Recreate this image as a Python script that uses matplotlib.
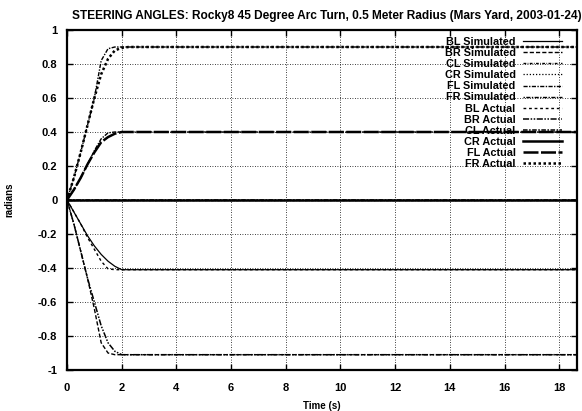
import matplotlib
matplotlib.use("Agg")
import matplotlib.pyplot as plt
import numpy as np

plt.rcParams['font.family'] = ['Liberation Sans', 'DejaVu Sans']

# time samples (s)
t_fast = [0, 0.25, 0.5, 0.75, 1.0, 1.25, 1.5, 1.75, 2.0, 19]
t_slow = [0, 0.25, 0.5, 0.75, 1.0, 1.25, 1.5, 1.75, 2.0, 2.25, 19]

# simulated steering angles (rad)
bl_sim = [0, -0.07, -0.14, -0.21, -0.27, -0.32, -0.36, -0.39, -0.41, -0.41, -0.41]
br_sim = [0, -0.14, -0.30, -0.46, -0.64, -0.84, -0.90, -0.91, -0.91, -0.91]
cl_sim = [0, 0, 0, 0, 0, 0, 0, 0, 0, 0]
cr_sim = [0, 0, 0, 0, 0, 0, 0, 0, 0, 0]
fl_sim = [0, 0.06, 0.13, 0.21, 0.29, 0.36, 0.395, 0.40, 0.40, 0.40]
fr_sim = [0, 0.13, 0.28, 0.44, 0.60, 0.82, 0.89, 0.90, 0.90, 0.90]

# actual steering angles (rad)
bl_act = [0, -0.07, -0.14, -0.22, -0.29, -0.36, -0.405, -0.41, -0.41, -0.41]
br_act = [0, -0.14, -0.30, -0.46, -0.60, -0.74, -0.84, -0.89, -0.91, -0.91, -0.91]
cl_act = [0, 0, 0, 0, 0, 0, 0, 0, 0, 0]
cr_act = [0, 0, 0, 0, 0, 0, 0, 0, 0, 0]
fl_act = [0, 0.06, 0.13, 0.21, 0.28, 0.34, 0.37, 0.39, 0.40, 0.40, 0.40]
fr_act = [0, 0.13, 0.28, 0.44, 0.60, 0.74, 0.83, 0.88, 0.895, 0.90, 0.90]

xticks = [0, 2, 4, 6, 8, 10, 12, 14, 16, 18]
yticks = [1, 0.8, 0.6, 0.4, 0.2, 0, -0.2, -0.4, -0.6, -0.8, -1]
ytick_labels = ['1', '0.8', '0.6', '0.4', '0.2', '0', '-0.2', '-0.4', '-0.6', '-0.8', '-1']

fig = plt.figure(figsize=(5.82, 4.11), dpi=100)
ax = fig.add_axes([67/582, 1-370/411, 510/582, 340/411])

series = [
    ("BL Simulated", t_slow, bl_sim, '-', 0.9),
    ("BR Simulated", t_fast, br_sim, (0, (3, 1.5)), 1.0),
    ("CL Simulated", t_fast, cl_sim, (0, (2, 1, 0.5, 1)), 1.0),
    ("CR Simulated", t_fast, cr_sim, (0, (1, 1.5)), 0.9),
    ("FL Simulated", t_fast, fl_sim, (0, (3, 1, 1, 1)), 1.0),
    ("FR Simulated", t_fast, fr_sim, (0, (1, 1, 3, 1)), 1.0),
    ("BL Actual", t_fast, bl_act, (0, (2, 2)), 1.0),
    ("BR Actual", t_slow, br_act, (0, (4, 1, 1, 1, 1, 1)), 1.1),
    ("CL Actual", t_fast, cl_act, (0, (3, 1, 1, 1)), 1.1),
    ("CR Actual", t_fast, cr_act, '-', 1.8),
    ("FL Actual", t_slow, fl_act, (0, (6, 1)), 1.8),
    ("FR Actual", t_slow, fr_act, (0, (1, 1)), 1.8),
]
for label, tt, yy, ls, lw in series:
    ax.plot(tt, yy, color='black', linestyle=ls, linewidth=lw, label=label)

ax.set_xlim(0, 18.65)
ax.set_ylim(-1, 1)
ax.set_xticks(xticks)
ax.set_xticklabels([str(v) for v in xticks], fontsize=8, fontweight='bold')
ax.set_yticks(yticks)
ax.set_yticklabels(ytick_labels, fontsize=8, fontweight='bold')
ax.tick_params(direction='in', top=True, right=True, length=4, width=1)
ax.tick_params(axis='x', pad=9)
ax.tick_params(axis='y', pad=7)
ax.grid(True, color='black', linestyle=(0, (1, 2)), linewidth=0.6)
for s in ax.spines.values():
    s.set_linewidth(1.6)

ax.set_xlabel("Time (s)", fontsize=7, fontweight='bold', labelpad=6)
ax.set_ylabel("radians", fontsize=7, fontweight='bold', labelpad=17)
ax.set_title("STEERING ANGLES: Rocky8 45 Degree Arc Turn, 0.5 Meter Radius (Mars Yard, 2003-01-24)",
             fontsize=8.6, fontweight='bold', pad=8, x=0.51)

leg = ax.legend(loc='upper right', frameon=False, markerfirst=False,
                prop={'size': 7.8, 'weight': 'bold'}, handlelength=3.6,
                handletextpad=0.7, labelspacing=0.1, borderaxespad=0.25,
                bbox_to_anchor=(0.985, 1.0))
for col in leg._legend_box._children[1]._children:
    col.align = 'right'

fig.savefig("out.png", dpi=100)
